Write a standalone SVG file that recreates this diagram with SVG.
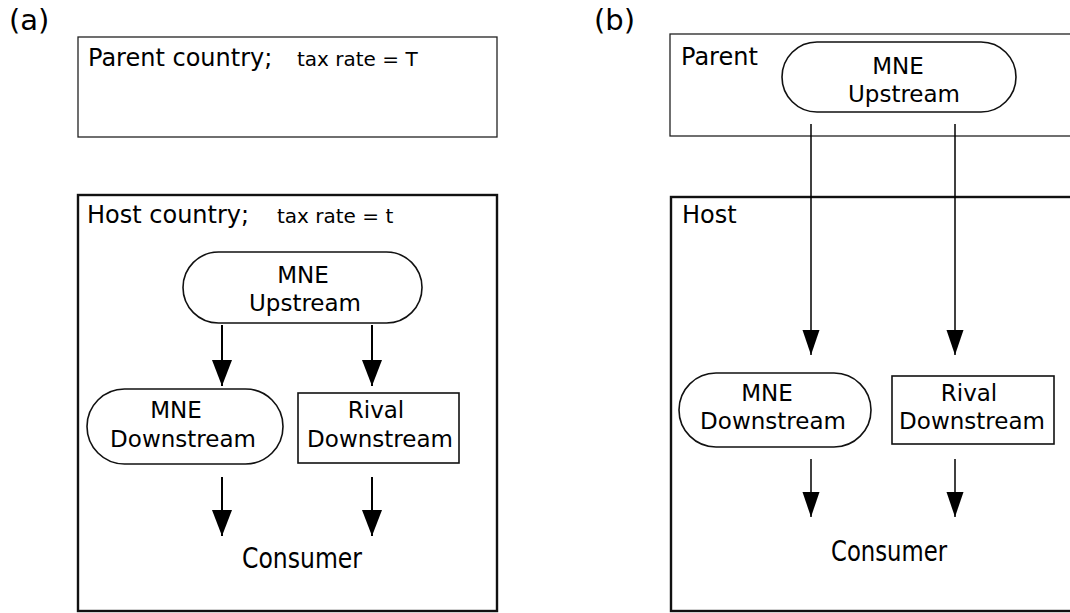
<svg xmlns="http://www.w3.org/2000/svg" width="1070" height="613" viewBox="0 0 1070 613">
<style>
text{font-family:"DejaVu Sans","Liberation Sans",sans-serif;fill:#000}
.lbl{font-size:24px}
.pl{font-size:29px}
.sm{font-size:20px}
.nd{font-size:23px;text-anchor:middle}
.cons{font-family:"DejaVu Sans Condensed","DejaVu Sans",sans-serif;font-size:29px;text-anchor:middle}
.thin{fill:#fff;stroke:#222;stroke-width:1.3}
.thick{fill:#fff;stroke:#111;stroke-width:2.4}
.node{fill:#fff;stroke:#111;stroke-width:1.6}
.ca{stroke:#000;stroke-width:2;fill:none}
.cb{stroke:#000;stroke-width:1.5;fill:none}
</style>
<defs>
<marker id="ah" markerUnits="userSpaceOnUse" markerWidth="28" markerHeight="22" viewBox="0 -11 28 22" refX="26" refY="0" orient="auto">
<path d="M0,-10 L26,0 L0,10 Z" fill="#000"/>
</marker>
<marker id="ahb" markerUnits="userSpaceOnUse" markerWidth="28" markerHeight="20" viewBox="0 -10 28 20" refX="25" refY="0" orient="auto">
<path d="M0,-8.5 L25,0 L0,8.5 Z" fill="#000"/>
</marker>
</defs>

<g id="panel-a">
<text x="9" y="30" class="pl">(a)</text>
<g id="a-parent">
<rect x="78" y="37" width="419" height="100" class="thin"/>
<text x="88" y="66" class="lbl">Parent country;</text>
<text x="297" y="66" class="sm">tax rate = T</text>
</g>
<g id="a-host">
<rect x="78" y="195" width="419" height="416" class="thick"/>
<text x="87" y="223" class="lbl">Host country;</text>
<text x="277" y="223" class="sm">tax rate = t</text>
</g>
<g id="a-mne-up">
<rect x="183" y="252" width="239" height="71" rx="35.5" class="node"/>
<text x="303" y="283" class="nd">MNE</text>
<text x="305" y="311" class="nd">Upstream</text>
</g>
<g id="a-mne-down">
<rect x="87" y="389" width="196" height="75" rx="37.5" class="node"/>
<text x="176" y="418" class="nd">MNE</text>
<text x="183" y="447" class="nd">Downstream</text>
</g>
<g id="a-rival-down">
<rect x="298" y="393" width="161" height="70" class="node"/>
<text x="376" y="418" class="nd">Rival</text>
<text x="380" y="447" class="nd">Downstream</text>
</g>
<g id="a-consumer">
<text x="302" y="568" class="cons" textLength="120" lengthAdjust="spacingAndGlyphs">Consumer</text>
</g>
</g>

<g id="panel-b">
<text x="594" y="30" class="pl">(b)</text>
<g id="b-parent">
<rect x="670" y="34" width="420" height="102" class="thin"/>
<text x="681" y="65" class="lbl">Parent</text>
</g>
<g id="b-host">
<rect x="671" y="197" width="420" height="414" class="thick"/>
<text x="682" y="223" class="lbl">Host</text>
</g>
<g id="b-mne-up">
<rect x="782" y="42" width="234" height="70" rx="35" class="node"/>
<text x="898" y="74" class="nd">MNE</text>
<text x="904" y="102" class="nd">Upstream</text>
</g>
<g id="b-mne-down">
<rect x="679" y="373" width="192" height="74" rx="37" class="node"/>
<text x="767" y="401" class="nd">MNE</text>
<text x="773" y="429" class="nd">Downstream</text>
</g>
<g id="b-rival-down">
<rect x="892" y="376" width="162" height="68" class="node"/>
<text x="969" y="401" class="nd">Rival</text>
<text x="972" y="429" class="nd">Downstream</text>
</g>
<g id="b-consumer">
<text x="889" y="561" class="cons" textLength="116" lengthAdjust="spacingAndGlyphs">Consumer</text>
</g>
</g>

<g id="connectors">
<line x1="222" y1="325" x2="222" y2="386" class="ca" marker-end="url(#ah)"/>
<line x1="372" y1="325" x2="372" y2="386" class="ca" marker-end="url(#ah)"/>
<line x1="222" y1="477" x2="222" y2="536" class="ca" marker-end="url(#ah)"/>
<line x1="372" y1="477" x2="372" y2="536" class="ca" marker-end="url(#ah)"/>
<line x1="811" y1="124" x2="811" y2="355" class="cb" marker-end="url(#ahb)"/>
<line x1="955" y1="124" x2="955" y2="355" class="cb" marker-end="url(#ahb)"/>
<line x1="811" y1="459" x2="811" y2="517" class="cb" marker-end="url(#ahb)"/>
<line x1="955" y1="459" x2="955" y2="517" class="cb" marker-end="url(#ahb)"/>
</g>
</svg>
